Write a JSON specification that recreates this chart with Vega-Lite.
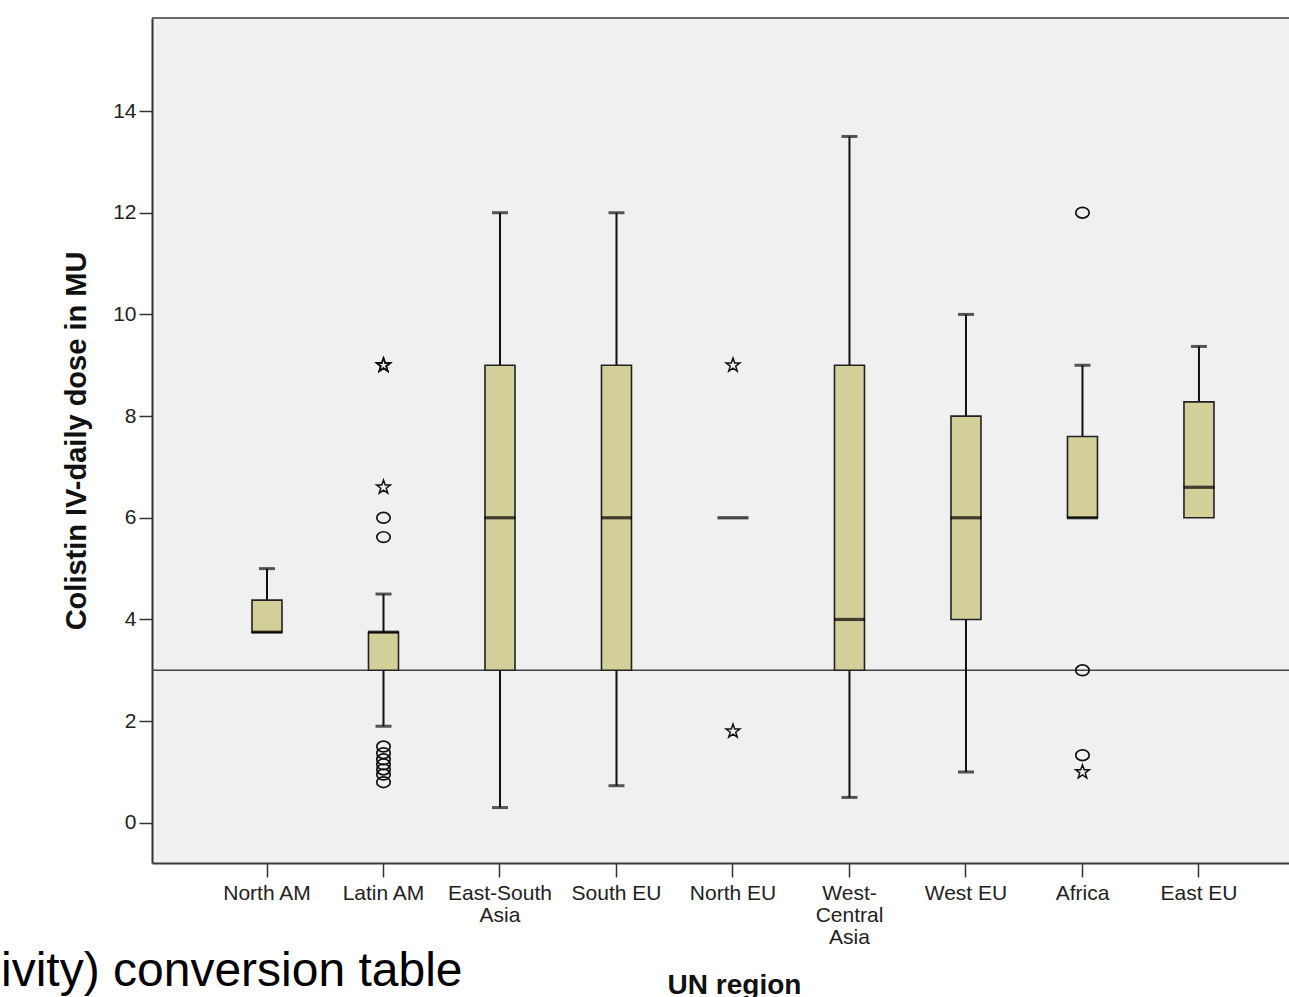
{
  "$schema": "https://vega.github.io/schema/vega-lite/v6.json",
  "autosize": "none",
  "width": 1137,
  "height": 845,
  "padding": {"left": 152, "top": 18, "right": 0, "bottom": 134},
  "background": "#ffffff",
  "view": {"stroke": null, "fill": "#f0f0f0"},
  "config": {"font": "Liberation Sans"},
  "title": {
    "text": "ivity) conversion table",
    "orient": "bottom",
    "anchor": "start",
    "frame": "group",
    "dx": -151,
    "dy": -55,
    "fontSize": 48,
    "fontWeight": "normal",
    "font": "Liberation Sans",
    "color": "#000000"
  },
  "datasets": {
    "stats": [
      {"region": "North AM", "lo": 3.75, "q1": 3.75, "median": 3.75, "q3": 4.38, "hi": 5.0, "cap_lo": null, "cap_hi": 5.0},
      {"region": "Latin AM", "lo": 1.9, "q1": 3.0, "median": 3.75, "q3": 3.75, "hi": 4.5, "cap_lo": 1.9, "cap_hi": 4.5},
      {"region": "East-South Asia", "lo": 0.3, "q1": 3.0, "median": 6.0, "q3": 9.0, "hi": 12.0, "cap_lo": 0.3, "cap_hi": 12.0},
      {"region": "South EU", "lo": 0.73, "q1": 3.0, "median": 6.0, "q3": 9.0, "hi": 12.0, "cap_lo": 0.73, "cap_hi": 12.0},
      {"region": "North EU", "lo": null, "q1": null, "median": 6.0, "q3": null, "hi": null, "cap_lo": null, "cap_hi": null},
      {"region": "West-Central Asia", "lo": 0.5, "q1": 3.0, "median": 4.0, "q3": 9.0, "hi": 13.5, "cap_lo": 0.5, "cap_hi": 13.5},
      {"region": "West EU", "lo": 1.0, "q1": 4.0, "median": 6.0, "q3": 8.0, "hi": 10.0, "cap_lo": 1.0, "cap_hi": 10.0},
      {"region": "Africa", "lo": 6.0, "q1": 6.0, "median": 6.0, "q3": 7.6, "hi": 9.0, "cap_lo": null, "cap_hi": 9.0},
      {"region": "East EU", "lo": 6.0, "q1": 6.0, "median": 6.6, "q3": 8.28, "hi": 9.37, "cap_lo": null, "cap_hi": 9.37}
    ],
    "outliers": [
      {"region": "Latin AM", "value": 9.0, "kind": "extreme"},
      {"region": "Latin AM", "value": 9.0, "kind": "extreme"},
      {"region": "Latin AM", "value": 9.0, "kind": "extreme"},
      {"region": "Latin AM", "value": 6.6, "kind": "extreme"},
      {"region": "Latin AM", "value": 6.0, "kind": "outlier"},
      {"region": "Latin AM", "value": 5.62, "kind": "outlier"},
      {"region": "Latin AM", "value": 1.5, "kind": "outlier"},
      {"region": "Latin AM", "value": 1.37, "kind": "outlier"},
      {"region": "Latin AM", "value": 1.25, "kind": "outlier"},
      {"region": "Latin AM", "value": 1.15, "kind": "outlier"},
      {"region": "Latin AM", "value": 1.05, "kind": "outlier"},
      {"region": "Latin AM", "value": 0.95, "kind": "outlier"},
      {"region": "Latin AM", "value": 0.8, "kind": "outlier"},
      {"region": "North EU", "value": 9.0, "kind": "extreme"},
      {"region": "North EU", "value": 1.8, "kind": "extreme"},
      {"region": "Africa", "value": 12.0, "kind": "outlier"},
      {"region": "Africa", "value": 3.0, "kind": "outlier"},
      {"region": "Africa", "value": 1.33, "kind": "outlier"},
      {"region": "Africa", "value": 1.0, "kind": "extreme"}
    ]
  },
  "resolve": {"scale": {"x": "shared", "y": "shared"}},
  "layer": [
    {
      "data": {"values": [{}]},
      "mark": {"type": "rule", "color": "#444444", "strokeWidth": 1.5},
      "encoding": {
        "y": {"datum": 3, "type": "quantitative", "scale": {"domain": [-0.79, 15.83], "nice": false, "zero": false}}
      }
    },
    {
      "data": {"values": [{}]},
      "mark": {"type": "rule", "color": "#6a6a6a", "strokeWidth": 2},
      "encoding": {
        "y": {"datum": 15.83, "type": "quantitative"}
      }
    },
    {
      "data": {"name": "stats"},
      "mark": {"type": "rule", "color": "#111111", "strokeWidth": 2},
      "encoding": {
        "x": {"field": "region", "type": "nominal", "sort": ["North AM", "Latin AM", "East-South Asia", "South EU", "North EU", "West-Central Asia", "West EU", "Africa", "East EU"], "scale": {"type": "band", "paddingInner": 0, "paddingOuter": 0.38, "align": 0.641}},
        "y": {"field": "lo", "type": "quantitative"},
        "y2": {"field": "hi"}
      }
    },
    {
      "data": {"name": "stats"},
      "mark": {"type": "tick", "color": "#111111", "size": 16, "thickness": 3, "orient": "horizontal"},
      "encoding": {
        "x": {"field": "region", "type": "nominal", "sort": ["North AM", "Latin AM", "East-South Asia", "South EU", "North EU", "West-Central Asia", "West EU", "Africa", "East EU"], "scale": {"type": "band", "paddingInner": 0, "paddingOuter": 0.38, "align": 0.641}},
        "y": {"field": "cap_lo", "type": "quantitative"}
      }
    },
    {
      "data": {"name": "stats"},
      "mark": {"type": "tick", "color": "#111111", "size": 16, "thickness": 3, "orient": "horizontal"},
      "encoding": {
        "x": {"field": "region", "type": "nominal", "sort": ["North AM", "Latin AM", "East-South Asia", "South EU", "North EU", "West-Central Asia", "West EU", "Africa", "East EU"], "scale": {"type": "band", "paddingInner": 0, "paddingOuter": 0.38, "align": 0.641}},
        "y": {"field": "cap_hi", "type": "quantitative"}
      }
    },
    {
      "data": {"name": "stats"},
      "mark": {"type": "bar", "width": 30, "fill": "#d3cf98", "stroke": "#222222", "strokeWidth": 1.6},
      "encoding": {
        "x": {
          "field": "region",
          "type": "nominal",
          "sort": ["North AM", "Latin AM", "East-South Asia", "South EU", "North EU", "West-Central Asia", "West EU", "Africa", "East EU"],
          "scale": {"type": "band", "paddingInner": 0, "paddingOuter": 0.38, "align": 0.641},
          "axis": {
            "title": "UN region",
            "titleFont": "Liberation Sans",
            "titleFontSize": 28,
            "titleFontWeight": "bold",
            "titleColor": "#111111",
            "titleX": 582,
            "titlePadding": 24,
            "labelAngle": 0,
            "labelAlign": "center",
            "labelFont": "Liberation Sans",
            "labelFontSize": 21,
            "labelColor": "#222222",
            "labelPadding": 5,
            "labelLineHeight": 22,
            "labelBaseline": "top",
            "labelExpr": "datum.label == 'East-South Asia' ? ['East-South', 'Asia'] : datum.label == 'West-Central Asia' ? ['West-', 'Central', 'Asia'] : datum.label",
            "tickSize": 14,
            "tickColor": "#333333",
            "tickWidth": 1.5,
            "domainColor": "#3a3a3a",
            "domainWidth": 2,
            "grid": false
          }
        },
        "y": {
          "field": "q1",
          "type": "quantitative",
          "scale": {"domain": [-0.79, 15.83], "nice": false, "zero": false},
          "axis": {
            "title": "Colistin IV-daily dose in MU",
            "titleFont": "Liberation Sans",
            "titleFontSize": 29,
            "titleFontWeight": "bold",
            "titleColor": "#111111",
            "titlePadding": 21,
            "values": [0, 2, 4, 6, 8, 10, 12, 14],
            "labelFont": "Liberation Sans",
            "labelFontSize": 21,
            "labelColor": "#222222",
            "labelPadding": 3,
            "tickSize": 13,
            "tickColor": "#333333",
            "tickWidth": 1.5,
            "domainColor": "#333333",
            "domainWidth": 2,
            "grid": false
          }
        },
        "y2": {"field": "q3"}
      }
    },
    {
      "data": {"name": "stats"},
      "mark": {"type": "tick", "color": "#000000", "size": 31, "thickness": 3.2, "orient": "horizontal"},
      "encoding": {
        "x": {"field": "region", "type": "nominal", "sort": ["North AM", "Latin AM", "East-South Asia", "South EU", "North EU", "West-Central Asia", "West EU", "Africa", "East EU"], "scale": {"type": "band", "paddingInner": 0, "paddingOuter": 0.38, "align": 0.641}},
        "y": {"field": "median", "type": "quantitative"}
      }
    },
    {
      "data": {"name": "outliers"},
      "transform": [{"filter": "datum.kind == 'outlier'"}],
      "mark": {"type": "point", "shape": "M-1,0A1,0.8 0 1,0 1,0A1,0.8 0 1,0 -1,0Z", "size": 180, "filled": false, "stroke": "#111111", "strokeWidth": 1.7, "opacity": 1},
      "encoding": {
        "x": {"field": "region", "type": "nominal", "sort": ["North AM", "Latin AM", "East-South Asia", "South EU", "North EU", "West-Central Asia", "West EU", "Africa", "East EU"], "scale": {"type": "band", "paddingInner": 0, "paddingOuter": 0.38, "align": 0.641}},
        "y": {"field": "value", "type": "quantitative"}
      }
    },
    {
      "data": {"name": "outliers"},
      "transform": [{"filter": "datum.kind == 'extreme'"}],
      "mark": {"type": "point", "shape": "M0,-1L0.235,-0.324L0.951,-0.309L0.38,0.124L0.588,0.809L0,0.4L-0.588,0.809L-0.38,0.124L-0.951,-0.309L-0.235,-0.324Z", "size": 210, "filled": false, "stroke": "#111111", "strokeWidth": 1.5, "opacity": 1},
      "encoding": {
        "x": {"field": "region", "type": "nominal", "sort": ["North AM", "Latin AM", "East-South Asia", "South EU", "North EU", "West-Central Asia", "West EU", "Africa", "East EU"], "scale": {"type": "band", "paddingInner": 0, "paddingOuter": 0.38, "align": 0.641}},
        "y": {"field": "value", "type": "quantitative"}
      }
    }
  ]
}
